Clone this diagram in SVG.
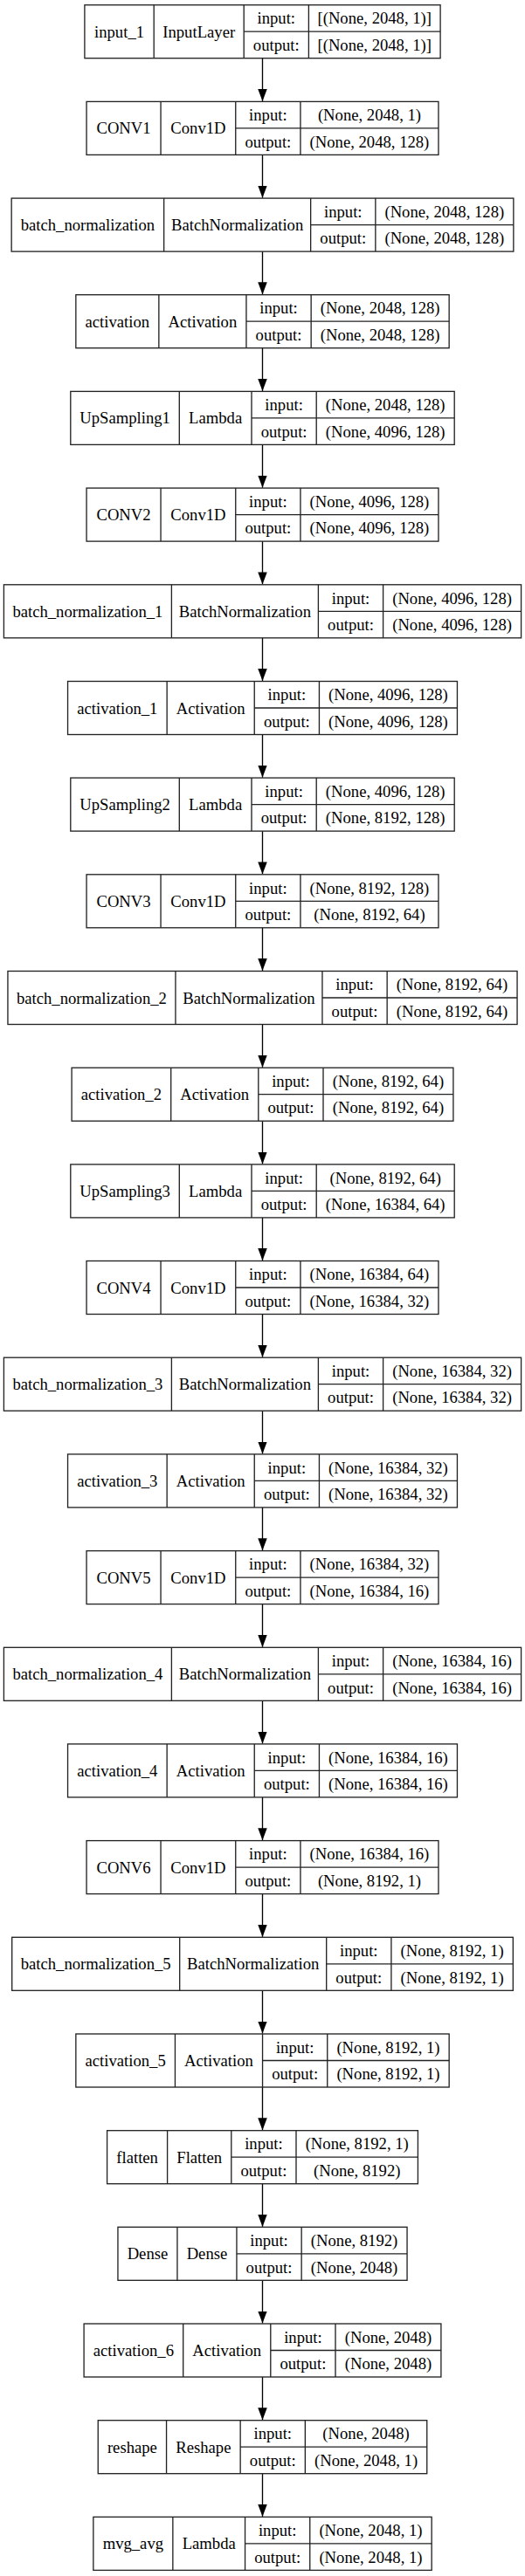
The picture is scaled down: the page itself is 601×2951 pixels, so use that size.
<svg xmlns="http://www.w3.org/2000/svg" width="601" height="2951" viewBox="0 0 601 2951">
<style>
.node rect{fill:#fff;stroke:#222;stroke-width:1.33}
.node path{fill:none;stroke:#222;stroke-width:1.33}
.node text{font-family:"Liberation Serif","Times New Roman",serif;font-size:18.67px;fill:#000;text-anchor:middle}
.edges path{fill:none;stroke:#000;stroke-width:1.33}
</style>
<defs>
<marker id="ah" viewBox="0 0 14 10.5" refX="14" refY="5.25" markerWidth="14" markerHeight="10.5" markerUnits="userSpaceOnUse" orient="auto">
<path d="M0,0L14,5.25L0,10.5z" fill="#000"/>
</marker>
</defs>
<rect x="0" y="0" width="601" height="2951" fill="#fff"/>

<g class="edges" id="connectors">
<path d="M300.5,66.7V116" marker-end="url(#ah)"/>
<path d="M300.5,177.4V226.7" marker-end="url(#ah)"/>
<path d="M300.5,288.1V337.3" marker-end="url(#ah)"/>
<path d="M300.5,398.7V448" marker-end="url(#ah)"/>
<path d="M300.5,509.4V558.7" marker-end="url(#ah)"/>
<path d="M300.5,620.1V669.4" marker-end="url(#ah)"/>
<path d="M300.5,730.8V780.1" marker-end="url(#ah)"/>
<path d="M300.5,841.5V890.7" marker-end="url(#ah)"/>
<path d="M300.5,952.1V1001.4" marker-end="url(#ah)"/>
<path d="M300.5,1062.8V1112.1" marker-end="url(#ah)"/>
<path d="M300.5,1173.5V1222.8" marker-end="url(#ah)"/>
<path d="M300.5,1284.2V1333.5" marker-end="url(#ah)"/>
<path d="M300.5,1394.9V1444.1" marker-end="url(#ah)"/>
<path d="M300.5,1505.5V1554.8" marker-end="url(#ah)"/>
<path d="M300.5,1616.2V1665.5" marker-end="url(#ah)"/>
<path d="M300.5,1726.9V1776.2" marker-end="url(#ah)"/>
<path d="M300.5,1837.6V1886.9" marker-end="url(#ah)"/>
<path d="M300.5,1948.3V1997.5" marker-end="url(#ah)"/>
<path d="M300.5,2058.9V2108.2" marker-end="url(#ah)"/>
<path d="M300.5,2169.6V2218.9" marker-end="url(#ah)"/>
<path d="M300.5,2280.3V2329.6" marker-end="url(#ah)"/>
<path d="M300.5,2391V2440.3" marker-end="url(#ah)"/>
<path d="M300.5,2501.7V2550.9" marker-end="url(#ah)"/>
<path d="M300.5,2612.3V2661.6" marker-end="url(#ah)"/>
<path d="M300.5,2723V2772.3" marker-end="url(#ah)"/>
<path d="M300.5,2833.7V2883" marker-end="url(#ah)"/>
</g>

<g id="input_1" class="node" transform="translate(0,5.7)">
<rect x="96.9" y="0" width="407.2" height="61"/>
<path d="M176.2,0V61M279.2,0V61M353.4,0V61M279.2,30.5H504.1"/>
<text x="136.55" y="37">input_1</text><text x="227.7" y="37">InputLayer</text>
<text x="316.3" y="21.75">input:</text><text x="316.3" y="52.25">output:</text>
<text x="428.75" y="21.75">[(None, 2048, 1)]</text><text x="428.75" y="52.25">[(None, 2048, 1)]</text>
</g>

<g id="CONV1" class="node" transform="translate(0,116.4)">
<rect x="99.05" y="0" width="402.9" height="61"/>
<path d="M184.05,0V61M269.75,0V61M343.95,0V61M269.75,30.5H501.95"/>
<text x="141.55" y="37">CONV1</text><text x="226.9" y="37">Conv1D</text>
<text x="306.85" y="21.75">input:</text><text x="306.85" y="52.25">output:</text>
<text x="422.95" y="21.75">(None, 2048, 1)</text><text x="422.95" y="52.25">(None, 2048, 128)</text>
</g>

<g id="batch_normalization" class="node" transform="translate(0,227.1)">
<rect x="13.15" y="0" width="574.7" height="61"/>
<path d="M187.65,0V61M355.65,0V61M429.85,0V61M355.65,30.5H587.85"/>
<text x="100.4" y="37">batch_normalization</text><text x="271.65" y="37">BatchNormalization</text>
<text x="392.75" y="21.75">input:</text><text x="392.75" y="52.25">output:</text>
<text x="508.85" y="21.75">(None, 2048, 128)</text><text x="508.85" y="52.25">(None, 2048, 128)</text>
</g>

<g id="activation" class="node" transform="translate(0,337.7)">
<rect x="86.85" y="0" width="427.3" height="61"/>
<path d="M181.85,0V61M281.95,0V61M356.15,0V61M281.95,30.5H514.15"/>
<text x="134.35" y="37">activation</text><text x="231.9" y="37">Activation</text>
<text x="319.05" y="21.75">input:</text><text x="319.05" y="52.25">output:</text>
<text x="435.15" y="21.75">(None, 2048, 128)</text><text x="435.15" y="52.25">(None, 2048, 128)</text>
</g>

<g id="UpSampling1" class="node" transform="translate(0,448.4)">
<rect x="80.8" y="0" width="439.4" height="61"/>
<path d="M205.3,0V61M288,0V61M362.2,0V61M288,30.5H520.2"/>
<text x="143.05" y="37">UpSampling1</text><text x="246.65" y="37">Lambda</text>
<text x="325.1" y="21.75">input:</text><text x="325.1" y="52.25">output:</text>
<text x="441.2" y="21.75">(None, 2048, 128)</text><text x="441.2" y="52.25">(None, 4096, 128)</text>
</g>

<g id="CONV2" class="node" transform="translate(0,559.1)">
<rect x="99.05" y="0" width="402.9" height="61"/>
<path d="M184.05,0V61M269.75,0V61M343.95,0V61M269.75,30.5H501.95"/>
<text x="141.55" y="37">CONV2</text><text x="226.9" y="37">Conv1D</text>
<text x="306.85" y="21.75">input:</text><text x="306.85" y="52.25">output:</text>
<text x="422.95" y="21.75">(None, 4096, 128)</text><text x="422.95" y="52.25">(None, 4096, 128)</text>
</g>

<g id="batch_normalization_1" class="node" transform="translate(0,669.8)">
<rect x="4.4" y="0" width="592.2" height="61"/>
<path d="M196.4,0V61M364.4,0V61M438.6,0V61M364.4,30.5H596.6"/>
<text x="100.4" y="37">batch_normalization_1</text><text x="280.4" y="37">BatchNormalization</text>
<text x="401.5" y="21.75">input:</text><text x="401.5" y="52.25">output:</text>
<text x="517.6" y="21.75">(None, 4096, 128)</text><text x="517.6" y="52.25">(None, 4096, 128)</text>
</g>

<g id="activation_1" class="node" transform="translate(0,780.5)">
<rect x="77.55" y="0" width="445.9" height="61"/>
<path d="M191.15,0V61M291.25,0V61M365.45,0V61M291.25,30.5H523.45"/>
<text x="134.35" y="37">activation_1</text><text x="241.2" y="37">Activation</text>
<text x="328.35" y="21.75">input:</text><text x="328.35" y="52.25">output:</text>
<text x="444.45" y="21.75">(None, 4096, 128)</text><text x="444.45" y="52.25">(None, 4096, 128)</text>
</g>

<g id="UpSampling2" class="node" transform="translate(0,891.1)">
<rect x="80.8" y="0" width="439.4" height="61"/>
<path d="M205.3,0V61M288,0V61M362.2,0V61M288,30.5H520.2"/>
<text x="143.05" y="37">UpSampling2</text><text x="246.65" y="37">Lambda</text>
<text x="325.1" y="21.75">input:</text><text x="325.1" y="52.25">output:</text>
<text x="441.2" y="21.75">(None, 4096, 128)</text><text x="441.2" y="52.25">(None, 8192, 128)</text>
</g>

<g id="CONV3" class="node" transform="translate(0,1001.8)">
<rect x="99.05" y="0" width="402.9" height="61"/>
<path d="M184.05,0V61M269.75,0V61M343.95,0V61M269.75,30.5H501.95"/>
<text x="141.55" y="37">CONV3</text><text x="226.9" y="37">Conv1D</text>
<text x="306.85" y="21.75">input:</text><text x="306.85" y="52.25">output:</text>
<text x="422.95" y="21.75">(None, 8192, 128)</text><text x="422.95" y="52.25">(None, 8192, 64)</text>
</g>

<g id="batch_normalization_2" class="node" transform="translate(0,1112.5)">
<rect x="8.95" y="0" width="583.1" height="61"/>
<path d="M200.95,0V61M368.95,0V61M443.15,0V61M368.95,30.5H592.05"/>
<text x="104.95" y="37">batch_normalization_2</text><text x="284.95" y="37">BatchNormalization</text>
<text x="406.05" y="21.75">input:</text><text x="406.05" y="52.25">output:</text>
<text x="517.6" y="21.75">(None, 8192, 64)</text><text x="517.6" y="52.25">(None, 8192, 64)</text>
</g>

<g id="activation_2" class="node" transform="translate(0,1223.2)">
<rect x="82.1" y="0" width="436.8" height="61"/>
<path d="M195.7,0V61M295.8,0V61M370,0V61M295.8,30.5H518.9"/>
<text x="138.9" y="37">activation_2</text><text x="245.75" y="37">Activation</text>
<text x="332.9" y="21.75">input:</text><text x="332.9" y="52.25">output:</text>
<text x="444.45" y="21.75">(None, 8192, 64)</text><text x="444.45" y="52.25">(None, 8192, 64)</text>
</g>

<g id="UpSampling3" class="node" transform="translate(0,1333.9)">
<rect x="80.8" y="0" width="439.4" height="61"/>
<path d="M205.3,0V61M288,0V61M362.2,0V61M288,30.5H520.2"/>
<text x="143.05" y="37">UpSampling3</text><text x="246.65" y="37">Lambda</text>
<text x="325.1" y="21.75">input:</text><text x="325.1" y="52.25">output:</text>
<text x="441.2" y="21.75">(None, 8192, 64)</text><text x="441.2" y="52.25">(None, 16384, 64)</text>
</g>

<g id="CONV4" class="node" transform="translate(0,1444.5)">
<rect x="99.05" y="0" width="402.9" height="61"/>
<path d="M184.05,0V61M269.75,0V61M343.95,0V61M269.75,30.5H501.95"/>
<text x="141.55" y="37">CONV4</text><text x="226.9" y="37">Conv1D</text>
<text x="306.85" y="21.75">input:</text><text x="306.85" y="52.25">output:</text>
<text x="422.95" y="21.75">(None, 16384, 64)</text><text x="422.95" y="52.25">(None, 16384, 32)</text>
</g>

<g id="batch_normalization_3" class="node" transform="translate(0,1555.2)">
<rect x="4.4" y="0" width="592.2" height="61"/>
<path d="M196.4,0V61M364.4,0V61M438.6,0V61M364.4,30.5H596.6"/>
<text x="100.4" y="37">batch_normalization_3</text><text x="280.4" y="37">BatchNormalization</text>
<text x="401.5" y="21.75">input:</text><text x="401.5" y="52.25">output:</text>
<text x="517.6" y="21.75">(None, 16384, 32)</text><text x="517.6" y="52.25">(None, 16384, 32)</text>
</g>

<g id="activation_3" class="node" transform="translate(0,1665.9)">
<rect x="77.55" y="0" width="445.9" height="61"/>
<path d="M191.15,0V61M291.25,0V61M365.45,0V61M291.25,30.5H523.45"/>
<text x="134.35" y="37">activation_3</text><text x="241.2" y="37">Activation</text>
<text x="328.35" y="21.75">input:</text><text x="328.35" y="52.25">output:</text>
<text x="444.45" y="21.75">(None, 16384, 32)</text><text x="444.45" y="52.25">(None, 16384, 32)</text>
</g>

<g id="CONV5" class="node" transform="translate(0,1776.6)">
<rect x="99.05" y="0" width="402.9" height="61"/>
<path d="M184.05,0V61M269.75,0V61M343.95,0V61M269.75,30.5H501.95"/>
<text x="141.55" y="37">CONV5</text><text x="226.9" y="37">Conv1D</text>
<text x="306.85" y="21.75">input:</text><text x="306.85" y="52.25">output:</text>
<text x="422.95" y="21.75">(None, 16384, 32)</text><text x="422.95" y="52.25">(None, 16384, 16)</text>
</g>

<g id="batch_normalization_4" class="node" transform="translate(0,1887.3)">
<rect x="4.4" y="0" width="592.2" height="61"/>
<path d="M196.4,0V61M364.4,0V61M438.6,0V61M364.4,30.5H596.6"/>
<text x="100.4" y="37">batch_normalization_4</text><text x="280.4" y="37">BatchNormalization</text>
<text x="401.5" y="21.75">input:</text><text x="401.5" y="52.25">output:</text>
<text x="517.6" y="21.75">(None, 16384, 16)</text><text x="517.6" y="52.25">(None, 16384, 16)</text>
</g>

<g id="activation_4" class="node" transform="translate(0,1997.9)">
<rect x="77.55" y="0" width="445.9" height="61"/>
<path d="M191.15,0V61M291.25,0V61M365.45,0V61M291.25,30.5H523.45"/>
<text x="134.35" y="37">activation_4</text><text x="241.2" y="37">Activation</text>
<text x="328.35" y="21.75">input:</text><text x="328.35" y="52.25">output:</text>
<text x="444.45" y="21.75">(None, 16384, 16)</text><text x="444.45" y="52.25">(None, 16384, 16)</text>
</g>

<g id="CONV6" class="node" transform="translate(0,2108.6)">
<rect x="99.05" y="0" width="402.9" height="61"/>
<path d="M184.05,0V61M269.75,0V61M343.95,0V61M269.75,30.5H501.95"/>
<text x="141.55" y="37">CONV6</text><text x="226.9" y="37">Conv1D</text>
<text x="306.85" y="21.75">input:</text><text x="306.85" y="52.25">output:</text>
<text x="422.95" y="21.75">(None, 16384, 16)</text><text x="422.95" y="52.25">(None, 8192, 1)</text>
</g>

<g id="batch_normalization_5" class="node" transform="translate(0,2219.3)">
<rect x="13.7" y="0" width="573.6" height="61"/>
<path d="M205.7,0V61M373.7,0V61M447.9,0V61M373.7,30.5H587.3"/>
<text x="109.7" y="37">batch_normalization_5</text><text x="289.7" y="37">BatchNormalization</text>
<text x="410.8" y="21.75">input:</text><text x="410.8" y="52.25">output:</text>
<text x="517.6" y="21.75">(None, 8192, 1)</text><text x="517.6" y="52.25">(None, 8192, 1)</text>
</g>

<g id="activation_5" class="node" transform="translate(0,2330)">
<rect x="86.85" y="0" width="427.3" height="61"/>
<path d="M200.45,0V61M300.55,0V61M374.75,0V61M300.55,30.5H514.15"/>
<text x="143.65" y="37">activation_5</text><text x="250.5" y="37">Activation</text>
<text x="337.65" y="21.75">input:</text><text x="337.65" y="52.25">output:</text>
<text x="444.45" y="21.75">(None, 8192, 1)</text><text x="444.45" y="52.25">(None, 8192, 1)</text>
</g>

<g id="flatten" class="node" transform="translate(0,2440.7)">
<rect x="122.6" y="0" width="355.8" height="61"/>
<path d="M191.6,0V61M264.8,0V61M339,0V61M264.8,30.5H478.4"/>
<text x="157.1" y="37">flatten</text><text x="228.2" y="37">Flatten</text>
<text x="301.9" y="21.75">input:</text><text x="301.9" y="52.25">output:</text>
<text x="408.7" y="21.75">(None, 8192, 1)</text><text x="408.7" y="52.25">(None, 8192)</text>
</g>

<g id="Dense" class="node" transform="translate(0,2551.3)">
<rect x="134.95" y="0" width="331.1" height="61"/>
<path d="M202.95,0V61M270.95,0V61M345.15,0V61M270.95,30.5H466.05"/>
<text x="168.95" y="37">Dense</text><text x="236.95" y="37">Dense</text>
<text x="308.05" y="21.75">input:</text><text x="308.05" y="52.25">output:</text>
<text x="405.6" y="21.75">(None, 8192)</text><text x="405.6" y="52.25">(None, 2048)</text>
</g>

<g id="activation_6" class="node" transform="translate(0,2662)">
<rect x="96.1" y="0" width="408.8" height="61"/>
<path d="M209.7,0V61M309.8,0V61M384,0V61M309.8,30.5H504.9"/>
<text x="152.9" y="37">activation_6</text><text x="259.75" y="37">Activation</text>
<text x="346.9" y="21.75">input:</text><text x="346.9" y="52.25">output:</text>
<text x="444.45" y="21.75">(None, 2048)</text><text x="444.45" y="52.25">(None, 2048)</text>
</g>

<g id="reshape" class="node" transform="translate(0,2772.7)">
<rect x="112.25" y="0" width="376.5" height="61"/>
<path d="M190.55,0V61M275.15,0V61M349.35,0V61M275.15,30.5H488.75"/>
<text x="151.4" y="37">reshape</text><text x="232.85" y="37">Reshape</text>
<text x="312.25" y="21.75">input:</text><text x="312.25" y="52.25">output:</text>
<text x="419.05" y="21.75">(None, 2048)</text><text x="419.05" y="52.25">(None, 2048, 1)</text>
</g>

<g id="mvg_avg" class="node" transform="translate(0,2883.4)">
<rect x="106.85" y="0" width="387.3" height="61"/>
<path d="M197.85,0V61M280.55,0V61M354.75,0V61M280.55,30.5H494.15"/>
<text x="152.35" y="37">mvg_avg</text><text x="239.2" y="37">Lambda</text>
<text x="317.65" y="21.75">input:</text><text x="317.65" y="52.25">output:</text>
<text x="424.45" y="21.75">(None, 2048, 1)</text><text x="424.45" y="52.25">(None, 2048, 1)</text>
</g>
</svg>
